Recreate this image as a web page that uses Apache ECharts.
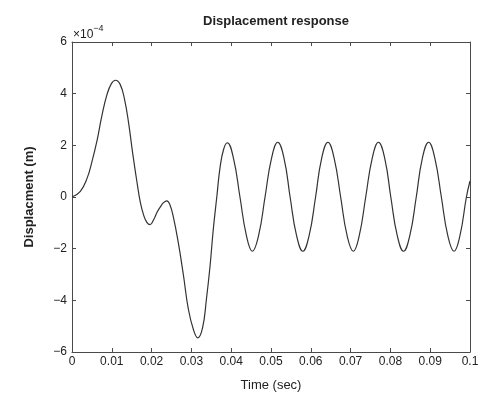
<!DOCTYPE html>
<html>
<head>
<meta charset="utf-8">
<script src="https://cdn.jsdelivr.net/npm/echarts@6/dist/echarts.min.js"></script>
<style>
html,body{margin:0;padding:0;background:#fff;}
#chart{width:486px;height:397px;}
</style>
</head>
<body>
<div id="chart"></div>
<script>
// Time (sec)
var time = [
  0, 0.0021, 0.0038, 0.0050, 0.0063, 0.0075, 0.0088, 0.0099, 0.0109, 0.0121,
  0.0132, 0.0142, 0.0152, 0.0163, 0.0172, 0.0180, 0.0188, 0.0196, 0.0205, 0.0214,
  0.0222, 0.0230, 0.0238, 0.0246, 0.0255, 0.0267, 0.0280, 0.0292, 0.0305, 0.0316,
  0.0328, 0.0338, 0.0347, 0.0355, 0.0364, 0.0372, 0.0381, 0.0390, 0.0406, 0.0422,
  0.0438, 0.0453, 0.0469, 0.0485, 0.0501, 0.0517, 0.0533, 0.0548, 0.0564, 0.0580,
  0.0596, 0.0612, 0.0627, 0.0643, 0.0659, 0.0675, 0.0691, 0.0707, 0.0722, 0.0738,
  0.0754, 0.0770, 0.0786, 0.0801, 0.0817, 0.0833, 0.0849, 0.0865, 0.0880, 0.0896,
  0.0912, 0.0928, 0.0944, 0.0960, 0.0975, 0.0991, 0.1000
];
// Displacement (m), in units of 1e-4
var disp = [
  0, 0.22, 0.73, 1.36, 2.19, 3.14, 3.97, 4.39, 4.52, 4.36,
  3.78, 2.89, 1.75, 0.60, -0.23, -0.70, -0.98, -1.07, -0.88, -0.58,
  -0.38, -0.22, -0.15, -0.30, -0.80, -1.76, -3.03, -4.31, -5.13, -5.45,
  -5.07, -3.92, -2.65, -1.25, 0.03, 1.15, 1.85, 2.10, 1.48, 0.00,
  -1.48, -2.10, -1.48, 0.00, 1.48, 2.12, 1.48, 0.00, -1.48, -2.10,
  -1.48, 0.00, 1.48, 2.12, 1.48, 0.00, -1.48, -2.10, -1.48, 0.00,
  1.48, 2.12, 1.48, 0.00, -1.48, -2.10, -1.48, 0.00, 1.48, 2.12,
  1.48, 0.00, -1.48, -2.10, -1.48, 0.00, 0.62
];
var xTicks = ['0','0.01','0.02','0.03','0.04','0.05','0.06','0.07','0.08','0.09','0.1'];
var yTicks = ['\u22126','\u22124','\u22122','0','2','4','6'];

var FONT = 'Liberation Sans';
var AX = '#4a4a4a';
var chart = echarts.init(document.getElementById('chart'), null, {renderer:'canvas'});
var data = time.map(function(t,i){ return [t, disp[i]]; });

function axisCommon(){
  return {
    axisLine:{show:true, onZero:false, lineStyle:{color:AX, width:1}},
    axisTick:{show:true, inside:true, length:4, lineStyle:{color:AX, width:1}},
    splitLine:{show:false}
  };
}
var xa = Object.assign(axisCommon(), {
  type:'value', min:0, max:0.1, interval:0.01, position:'bottom',
  axisLabel:{color:'#222', fontFamily:FONT, fontSize:12, margin:4,
    formatter:function(v){ return xTicks[Math.round(v*100)]; }},
  name:'Time (sec)', nameLocation:'middle', nameGap:27,
  nameTextStyle:{color:'#222', fontFamily:FONT, fontSize:13}
});
var xa2 = Object.assign(axisCommon(), {
  type:'value', min:0, max:0.1, interval:0.01, position:'top',
  axisLabel:{show:false}
});
var ya = Object.assign(axisCommon(), {
  type:'value', min:-6, max:6, interval:2, position:'left',
  axisLabel:{color:'#222', fontFamily:FONT, fontSize:12, margin:5,
    formatter:function(v){ return yTicks[Math.round((v+6)/2)]; }},
  name:'Displacment (m)', nameLocation:'middle', nameGap:36,
  nameTextStyle:{color:'#222', fontFamily:FONT, fontSize:13, fontWeight:'bold'}
});
var ya2 = Object.assign(axisCommon(), {
  type:'value', min:-6, max:6, interval:2, position:'right',
  axisLabel:{show:false}
});

chart.setOption({
  animation:false,
  backgroundColor:'#fff',
  title:{
    text:'Displacement response', left:271, top:10, textAlign:'center',
    textStyle:{fontFamily:FONT, fontSize:13, fontWeight:'bold', color:'#222'}
  },
  grid:{left:72, right:16, top:42, bottom:41, containLabel:false},
  xAxis:[xa, xa2],
  yAxis:[ya, ya2],
  graphic:[{
    type:'text', left:73, top:24,
    style:{
      text:'{a|\u00d710}{b|\u22124}',
      rich:{
        a:{fontFamily:FONT, fontSize:12, fill:'#222', padding:[6,0,0,0]},
        b:{fontFamily:FONT, fontSize:9, fill:'#222', padding:[0,0,6,0]}
      }
    }
  }],
  series:[{
    type:'line', xAxisIndex:0, yAxisIndex:0,
    data:data, showSymbol:false, smooth:0.45,
    lineStyle:{color:'#333', width:1.2}
  }]
});
</script>
</body>
</html>
